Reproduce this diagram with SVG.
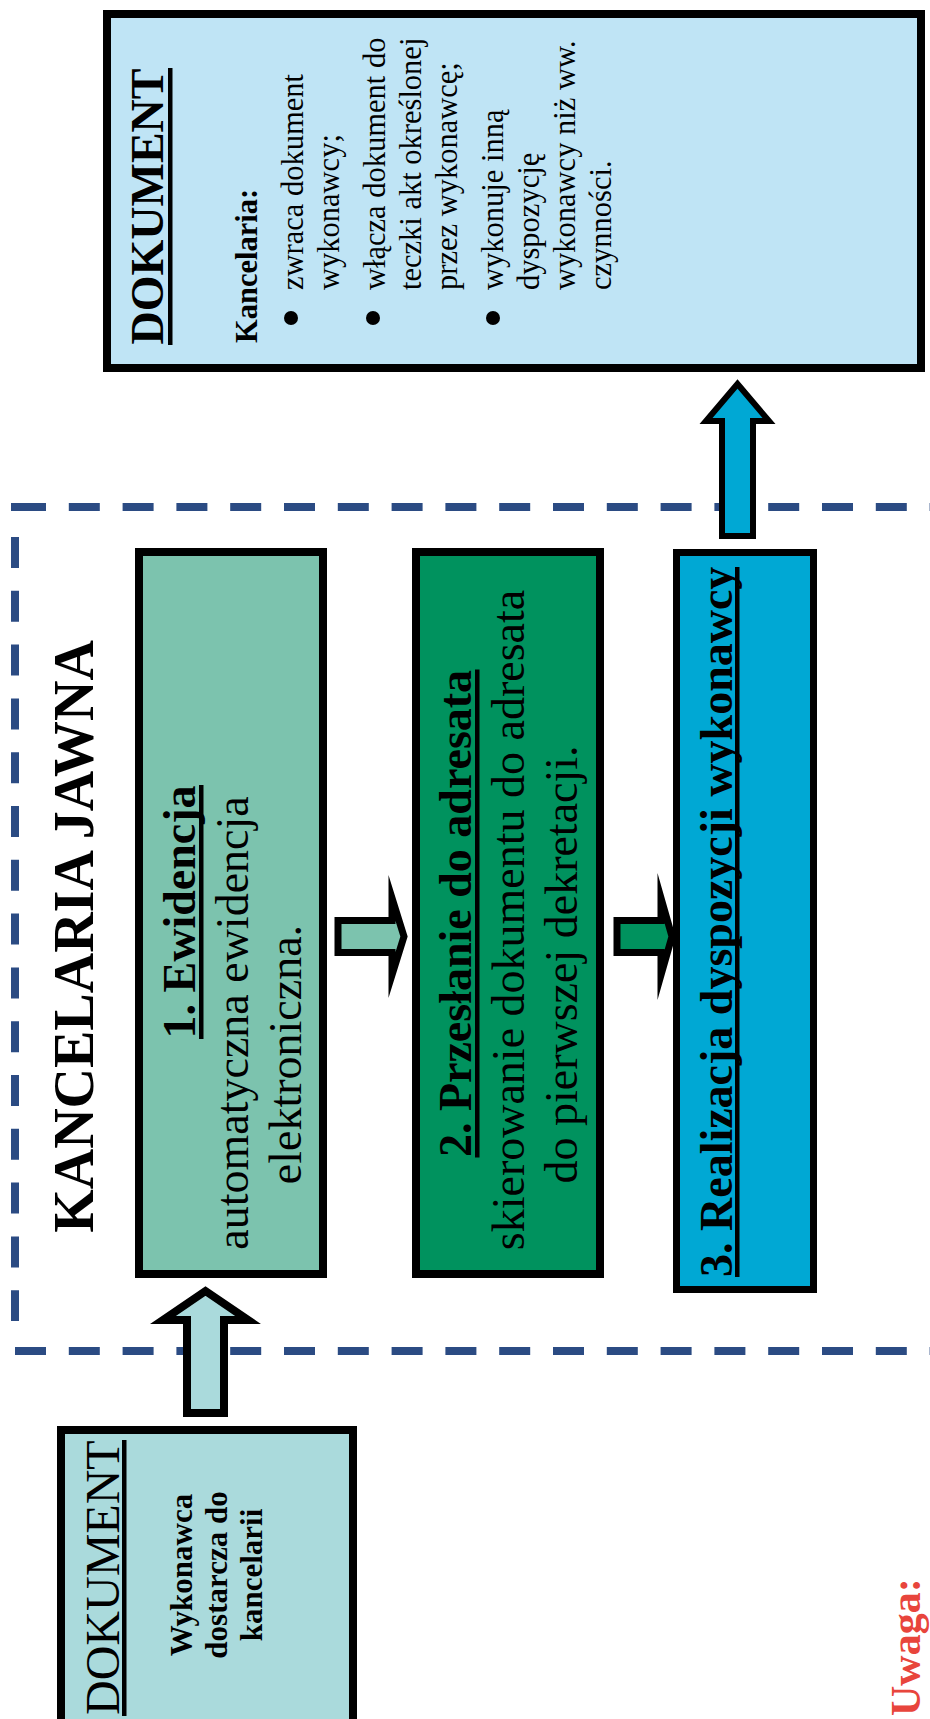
<svg xmlns="http://www.w3.org/2000/svg" width="930" height="1719" viewBox="0 0 930 1719">
<style>
text{font-family:"Liberation Serif","Times New Roman",serif;fill:#000}
.b{font-weight:bold}
.f46{font-size:46px}
.f30{font-size:30.5px}
.mid{text-anchor:middle}
.box{stroke:#000;stroke-width:8}
.arr{stroke:#000;stroke-linejoin:miter;stroke-miterlimit:10}
.dash{stroke:#2B4B83;stroke-width:8;stroke-dasharray:31 22.8;fill:none}
</style>
<rect width="930" height="1719" fill="#fff"/>
<g id="kancelaria-jawna">
<line class="dash" x1="15" y1="507" x2="935" y2="507"/>
<line class="dash" x1="15" y1="1351" x2="935" y2="1351"/>
<line class="dash" x1="15" y1="537" x2="15" y2="1321"/>
<rect x="11" y="503" width="6" height="8" fill="#2B4B83"/>
<text class="b" font-size="56" transform="translate(93,936.5) rotate(-90)" text-anchor="middle">KANCELARIA JAWNA</text>
</g>
<g id="connectors">
<polygon class="arr" stroke-width="8" fill="#AADADC" points="187,1413 224,1413 224,1320 248,1320 205.5,1291 163,1320 187,1320"/>
<polygon class="arr" stroke-width="7" fill="#7CC3AE" points="338,920.5 392,920.5 392,898 404,936.5 392,975 392,952.5 338,952.5"/>
<polygon class="arr" stroke-width="7" fill="#00925E" points="617,920.5 661,920.5 661,898 672,936.5 661,975 661,952.5 617,952.5"/>
<polygon class="arr" stroke-width="6" fill="#00A8D4" points="722,536 753,536 753,421 769,421 737.5,384 706,421 722,421"/>
</g>
<g id="dokument-gora">
<rect class="box" x="107" y="14" width="814" height="354" fill="#BFE4F5"/>
<g transform="translate(163,206.5) rotate(-90)">
<text class="b f46 mid" x="0" y="0">DOKUMENT</text>
<rect x="-138.5" y="5" width="277" height="4.5" fill="#000"/>
</g>
<text class="b f30" transform="translate(257,343) rotate(-90)">Kancelaria:</text>
<circle cx="291" cy="318" r="7" fill="#000"/>
<circle cx="373" cy="318" r="7" fill="#000"/>
<circle cx="493" cy="318" r="7" fill="#000"/>
<text class="f30" transform="translate(303,290) rotate(-90)">zwraca dokument</text>
<text class="f30" transform="translate(339,290) rotate(-90)">wykonawcy;</text>
<text class="f30" transform="translate(385,290) rotate(-90)">włącza dokument do</text>
<text class="f30" transform="translate(421,290) rotate(-90)">teczki akt określonej</text>
<text class="f30" transform="translate(457,290) rotate(-90)">przez wykonawcę;</text>
<text class="f30" transform="translate(503,290) rotate(-90)">wykonuje inną</text>
<text class="f30" transform="translate(539,290) rotate(-90)">dyspozycję</text>
<text class="f30" transform="translate(575,290) rotate(-90)">wykonawcy niż ww.</text>
<text class="f30" transform="translate(611,290) rotate(-90)">czynności.</text>
</g>
<g id="ewidencja">
<rect class="box" x="139" y="552" width="184" height="722" fill="#7CC3AE"/>
<g transform="translate(195,912) rotate(-90)">
<text class="b f46 mid">1. Ewidencja</text>
<rect x="-127" y="4" width="254" height="4.5" fill="#000"/>
</g>
<text class="f46 mid" transform="translate(248,1023) rotate(-90)">automatyczna ewidencja</text>
<text class="f46 mid" transform="translate(301,1054.5) rotate(-90)">elektroniczna.</text>
</g>
<g id="przeslanie">
<rect class="box" x="416" y="552" width="184" height="722" fill="#00925E"/>
<g transform="translate(471,913.5) rotate(-90)">
<text class="b f46 mid">2. Przesłanie do adresata</text>
<rect x="-244" y="4" width="488" height="4.5" fill="#000"/>
</g>
<text class="f46 mid" transform="translate(524,920) rotate(-90)">skierowanie dokumentu do adresata</text>
<text class="f46 mid" transform="translate(577,964.5) rotate(-90)">do pierwszej dekretacji.</text>
</g>
<g id="realizacja">
<rect x="676.5" y="552.5" width="137" height="737" fill="#00A8D4" stroke="#000" stroke-width="7"/>
<g transform="translate(732,1277) rotate(-90)">
<text class="b f46">3. Realizacja dyspozycji wykonawcy</text>
<rect x="0" y="3" width="710" height="4.5" fill="#000"/>
</g>
</g>
<g id="dokument-dol">
<rect class="box" x="61" y="1430" width="292" height="300" fill="#AADADC"/>
<g transform="translate(119,1715) rotate(-90)">
<text font-size="48">DOKUMENT</text>
<rect x="-1" y="3" width="276" height="4.5" fill="#000"/>
</g>
<g class="b" font-size="31">
<text class="b mid" transform="translate(192,1575) rotate(-90)">Wykonawca</text>
<text class="b mid" transform="translate(227,1575) rotate(-90)">dostarcza do</text>
<text class="b mid" transform="translate(262,1575) rotate(-90)">kancelarii</text>
</g>
</g>
<g id="uwaga">
<text class="b" font-size="42" style="fill:#E8453C" transform="translate(920,1716) rotate(-90)">Uwaga:</text>
</g>
</svg>
